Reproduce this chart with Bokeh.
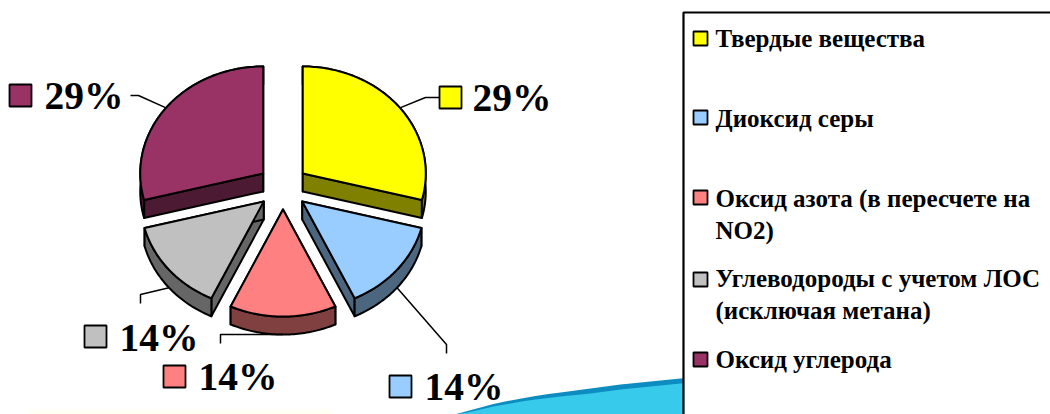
import math

from bokeh.core.properties import value
from bokeh.embed import file_html
from bokeh.models import Range1d
from bokeh.plotting import figure
from bokeh.resources import INLINE

# Air pollutant shares, clockwise from twelve o'clock
categories = [
    "Твердые вещества",
    "Диоксид серы",
    "Оксид азота (в пересчете на NO2)",
    "Углеводороды с учетом ЛОС (исключая метана)",
    "Оксид углерода",
]
shares = [29, 14, 14, 14, 29]
top_colors = ["#FFFF00", "#99CCFF", "#FF8080", "#C0C0C0", "#993366"]
side_colors = ["#808000", "#4D6680", "#804040", "#666666", "#4D1A33"]

legend_lines = [
    ["Твердые вещества"],
    ["Диоксид серы"],
    ["Оксид азота (в пересчете на", "NO2)"],
    ["Углеводороды с учетом ЛОС", "(исключая метана)"],
    ["Оксид углерода"],
]
legend_swatch_y = [38, 117, 197, 279, 359]
legend_text_y = [38, 118, 198, 278, 359]

# Pie geometry in page pixels
CX, CY = 282.5, 186.7
RX, RY = 123.0, 107.0
EXPLODE_X, EXPLODE_Y = 25.0, 22.4
DEPTH = 18.0

# Label placement: swatch corner, text position, elbow and end of the leader
label_layout = [
    dict(sw=(439, 86), tx=472, ty=97, elbow=(425, 97), end=(439, 97)),
    dict(sw=(389, 375), tx=424, ty=386, elbow=(446, 344), end=(446, 353), rim=True),
    dict(sw=(163, 365), tx=198, ty=376, elbow=(220, 334), end=(220, 343), rim=True),
    dict(sw=(84, 325), tx=119, ty=337, elbow=(140, 294), end=(140, 303), rim=True),
    dict(sw=(9, 84), tx=44, ty=95, elbow=(138, 95), end=(130, 95)),
]

p = figure(
    width=1050, height=414, output_backend="svg", toolbar_location=None,
    x_range=Range1d(0, 1050), y_range=Range1d(414, 0),
    min_border=0, outline_line_color=None, background_fill_color="#FFFFFF",
    border_fill_color="#FFFFFF",
)
p.axis.visible = False
p.grid.visible = False

# Decorative band running under the legend box
band_x = [454, 467, 480, 493, 507, 521, 535, 548, 560, 575, 590, 605, 620, 635, 650, 670, 690]
band_edge = [414, 410.5, 407, 403.5, 400.5, 398, 395.5, 393.5, 392, 390, 388, 386, 384, 382.5, 381, 379, 377]
band_fill = [414, 412, 409, 406, 403.5, 401, 399, 397.5, 396, 394.5, 393, 391, 389, 387.5, 386, 384, 382]
p.quad(left=30, right=330, top=409, bottom=414, fill_color="#FFFFF6", line_color=None)
p.patch(band_x + [690, 454], band_edge + [414, 414], fill_color="#0C8CC0", line_color=None)
p.patch(band_x + [690, 454], band_fill + [414, 414], fill_color="#38CAEA", line_color=None)


def point(a_deg, ox, oy, shift=0.0):
    a = math.radians(a_deg)
    return ox + RX * math.sin(a), oy - RY * math.cos(a) + shift


total = sum(shares)
start = 0.0
side_xs, side_ys, side_fill = [], [], []
top_xs, top_ys = [], []
anchors = []
for share, side in zip(shares, side_colors):
    sweep = 360.0 * share / total
    mid = math.radians(start + sweep / 2)
    ox = CX + EXPLODE_X * math.sin(mid)
    oy = CY - EXPLODE_Y * math.cos(mid)
    steps = max(8, int(sweep))
    arc = [point(start + sweep * i / steps, ox, oy) for i in range(steps + 1)]
    low = [point(start + sweep * i / steps, ox, oy, DEPTH) for i in range(steps + 1)]

    # Side walls first: both cut faces, then the outer rim
    for edge in (arc[0], arc[-1]):
        side_xs.append([ox, edge[0], edge[0], ox])
        side_ys.append([oy, edge[1], edge[1] + DEPTH, oy + DEPTH])
        side_fill.append(side)
    side_xs.append([q[0] for q in arc] + [q[0] for q in reversed(low)])
    side_ys.append([q[1] for q in arc] + [q[1] for q in reversed(low)])
    side_fill.append(side)

    top_xs.append([ox] + [q[0] for q in arc])
    top_ys.append([oy] + [q[1] for q in arc])
    anchors.append((start + sweep / 2, ox, oy))
    start += sweep

p.patches(side_xs, side_ys, fill_color=side_fill, line_color="#000000", line_width=2, line_join="round")
p.patches(top_xs, top_ys, fill_color=top_colors, line_color="#000000", line_width=2, line_join="round")

# Value labels with swatches; leaders start at the middle of each slice's rim
for share, color, lay, (mid_deg, ox, oy) in zip(shares, top_colors, label_layout, anchors):
    ax, ay = point(mid_deg, ox, oy, DEPTH if lay.get("rim") else 0.0)
    p.line([ax, lay["elbow"][0], lay["end"][0]], [ay, lay["elbow"][1], lay["end"][1]],
           line_color="#000000", line_width=1.5)
    sx, sy = lay["sw"]
    p.quad(left=sx, right=sx + 22, top=sy, bottom=sy + 22, fill_color=color,
           line_color="#000000", line_width=1.8)
    p.text([lay["tx"]], [lay["ty"]], text=[f"{share}%"], text_font=value("Liberation Serif"),
           text_font_style="bold", text_font_size="39.5px", text_color="#000000",
           text_baseline="middle", text_align="left")

# Legend box, running off the right and bottom of the page
p.quad(left=683, right=1060, top=12, bottom=424, fill_color="#FFFFFF",
       line_color="#000000", line_width=2.2)
for lines, swatch_y, text_y, color in zip(legend_lines, legend_swatch_y, legend_text_y, top_colors):
    p.quad(left=693, right=707, top=swatch_y - 7, bottom=swatch_y + 7, fill_color=color,
           line_color="#000000", line_width=1.8)
    for i, line in enumerate(lines):
        p.text([715], [text_y + i * 32], text=[line], text_font=value("Liberation Serif"),
               text_font_style="bold", text_font_size="25px", text_color="#000000",
               text_baseline="middle", text_align="left")

open("out.html", "w").write(file_html(p, INLINE))
